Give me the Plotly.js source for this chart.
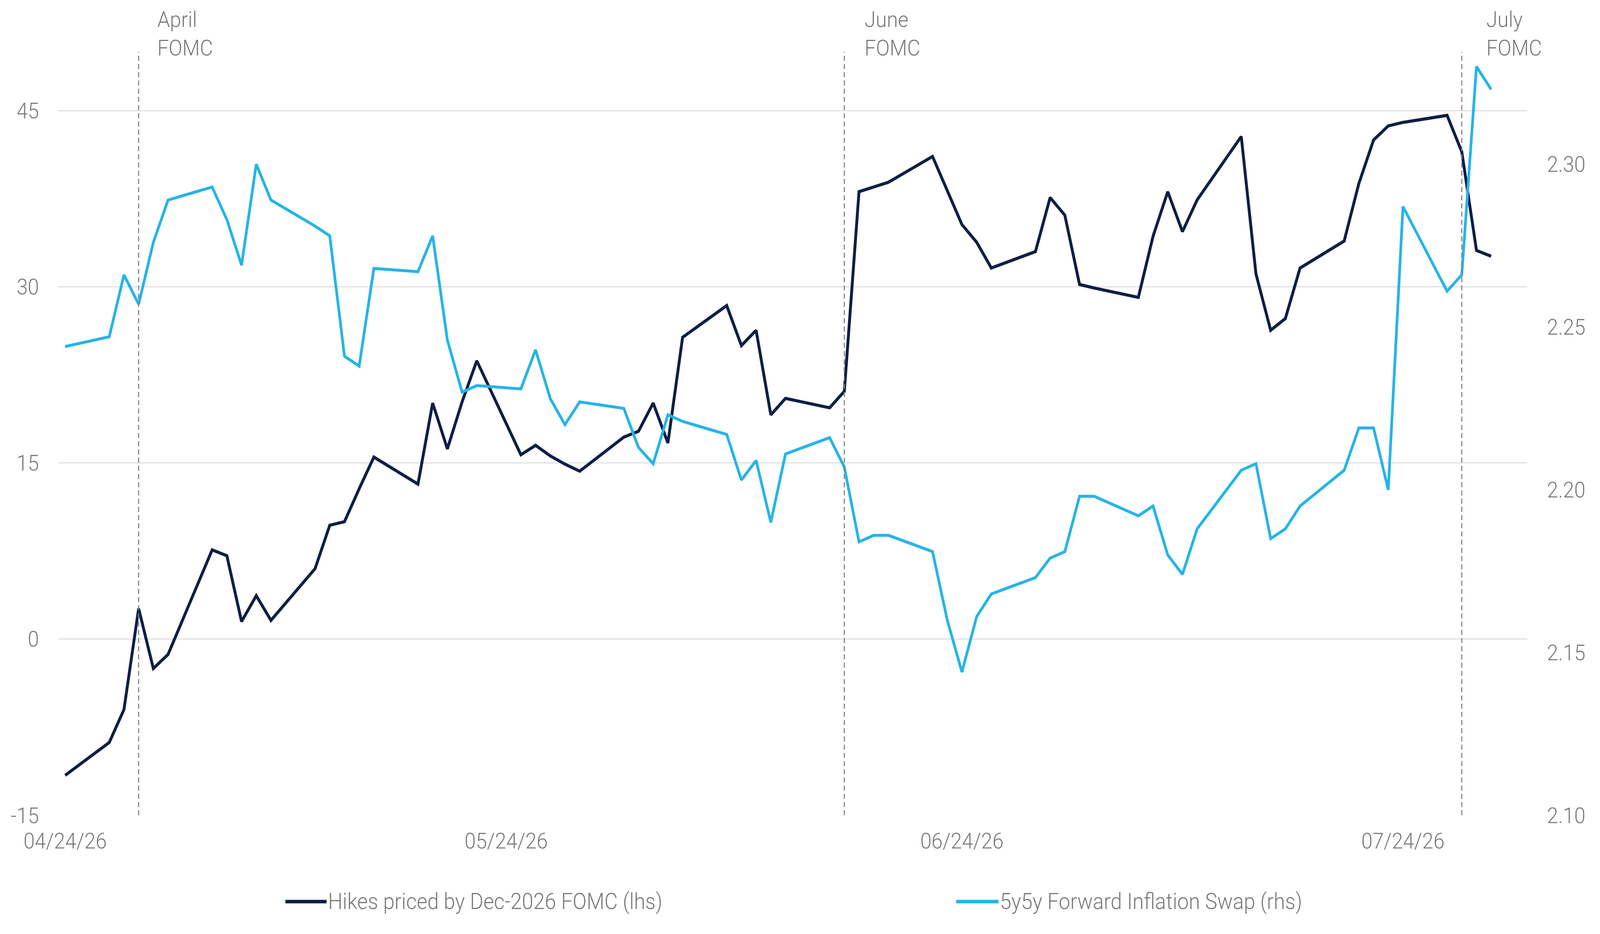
<!DOCTYPE html>
<html>
<head>
<meta charset="utf-8">
<script src="https://cdn.plot.ly/plotly-3.0.1.min.js"></script>
<style>
    html, body { margin: 0; padding: 0; width: 100%; height: 100%; background: #ffffff; overflow: hidden; }
    #frame { position: fixed; left: 0; top: 0; width: 100vw; height: 100vh; overflow: hidden; }
    #chart { width: 4434px; height: 2392px; transform-origin: 0 0; }
</style>
</head>
<body>
<div id="frame"><div id="chart"></div></div>
<script>
// Data (business days, Apr 24 - Jul 30 2026)
const dates = [
    '2026-04-24', '2026-04-27', '2026-04-28', '2026-04-29', '2026-04-30',
    '2026-05-01', '2026-05-04', '2026-05-05', '2026-05-06', '2026-05-07', '2026-05-08',
    '2026-05-11', '2026-05-12', '2026-05-13', '2026-05-14', '2026-05-15',
    '2026-05-18', '2026-05-19', '2026-05-20', '2026-05-21', '2026-05-22',
    '2026-05-25', '2026-05-26', '2026-05-27', '2026-05-28', '2026-05-29',
    '2026-06-01', '2026-06-02', '2026-06-03', '2026-06-04', '2026-06-05',
    '2026-06-08', '2026-06-09', '2026-06-10', '2026-06-11', '2026-06-12',
    '2026-06-15', '2026-06-16', '2026-06-17', '2026-06-18', '2026-06-19',
    '2026-06-22', '2026-06-23', '2026-06-24', '2026-06-25', '2026-06-26',
    '2026-06-29', '2026-06-30', '2026-07-01', '2026-07-02', '2026-07-03',
    '2026-07-06', '2026-07-07', '2026-07-08', '2026-07-09', '2026-07-10',
    '2026-07-13', '2026-07-14', '2026-07-15', '2026-07-16', '2026-07-17',
    '2026-07-20', '2026-07-21', '2026-07-22', '2026-07-23', '2026-07-24',
    '2026-07-27', '2026-07-28', '2026-07-29', '2026-07-30'
];

const hikesPriced = [
    -11.6, -8.8, -6.0, 2.6, -2.5,
    -1.3, 7.6, 7.1, 1.5, 3.7, 1.6,
    6.0, 9.7, 10.0, 12.8, 15.5,
    13.2, 20.1, 16.2, 20.2, 23.7,
    15.7, 16.5, 15.6, 14.9, 14.3,
    17.2, 17.7, 20.1, 16.7, 25.7,
    28.4, 25.0, 26.3, 19.1, 20.5,
    19.7, 21.1, 38.1, 38.5, 38.9,
    41.1, 38.2, 35.3, 33.8, 31.6,
    33.0, 37.6, 36.1, 30.2, 29.9,
    29.1, 34.3, 38.1, 34.7, 37.4,
    42.8, 31.1, 26.3, 27.3, 31.6,
    33.9, 38.8, 42.5, 43.7, 44.0,
    44.6, 41.5, 33.1, 32.6
];

const inflationSwap = [
    2.244, 2.247, 2.266, 2.257, 2.276,
    2.289, 2.293, 2.283, 2.269, 2.300, 2.289,
    2.281, 2.278, 2.241, 2.238, 2.268,
    2.267, 2.278, 2.246, 2.230, 2.232,
    2.231, 2.243, 2.228, 2.220, 2.227,
    2.225, 2.213, 2.208, 2.223, 2.221,
    2.217, 2.203, 2.209, 2.190, 2.211,
    2.216, 2.207, 2.184, 2.186, 2.186,
    2.181, 2.160, 2.144, 2.161, 2.168,
    2.173, 2.179, 2.181, 2.198, 2.198,
    2.192, 2.195, 2.180, 2.174, 2.188,
    2.206, 2.208, 2.185, 2.188, 2.195,
    2.206, 2.219, 2.219, 2.200, 2.287,
    2.261, 2.266, 2.330, 2.323
];

const seriesNames = ['Hikes priced by Dec-2026 FOMC (lhs)', '5y5y Forward Inflation Swap (rhs)'];
const fomcDates = ['2026-04-29', '2026-06-16', '2026-07-28'];
const fomcLabels = ['April<br>FOMC', 'June<br>FOMC', 'July<br>FOMC'];
const xTickVals = ['2026-04-24', '2026-05-24', '2026-06-24', '2026-07-24'];
const leftTicks = [-15, 0, 15, 30, 45];
const leftTickText = ['-15', '0', '15', '30', '45'];
const rightTicks = [2.10, 2.15, 2.20, 2.25, 2.30];

// Styling
const navy = '#0e1f45';
const sky = '#25b4e8';
const textGray = '#7a7a7a';
const fontBase = { family: 'Roboto, "Open Sans", sans-serif', size: 56, color: textGray, weight: 300 };
const fontLegend = { ...fontBase, size: 57 };

const traces = [
    {
        x: dates, y: hikesPriced, name: seriesNames[0],
        type: 'scatter', mode: 'lines', yaxis: 'y',
        line: { color: navy, width: 8 }
    },
    {
        x: dates, y: inflationSwap, name: seriesNames[1],
        type: 'scatter', mode: 'lines', yaxis: 'y2',
        line: { color: sky, width: 7.5 }
    }
];

// FOMC markers
const shapes = fomcDates.map(d => ({
    type: 'line', xref: 'x', yref: 'paper',
    x0: d, x1: d, y0: 0, y1: 1,
    line: { color: '#808080', width: 3, dash: '13px,8px' }
}));

const fomcShift = [50, 54, 66];
const annotations = fomcDates.map((d, i) => ({
    x: d, xref: 'x', y: 1.024, yref: 'paper',
    xanchor: 'left', yanchor: 'middle', align: 'left',
    xshift: fomcShift[i], showarrow: false,
    text: fomcLabels[i], font: fontBase
}));

// Legend drawn by hand so the line samples are as long as in the original
const legendItems = [
    { x0: 0.1547, x1: 0.1827, color: navy },
    { x0: 0.6112, x1: 0.6400, color: sky }
];
const legendY = -0.113;
legendItems.forEach((item, i) => {
    shapes.push({
        type: 'line', xref: 'paper', yref: 'paper',
        x0: item.x0, x1: item.x1, y0: legendY, y1: legendY,
        line: { color: item.color, width: 9 }
    });
    annotations.push({
        x: item.x1, xref: 'paper', y: legendY, yref: 'paper',
        xanchor: 'left', yanchor: 'middle', xshift: 2,
        showarrow: false, text: seriesNames[i], font: fontLegend
    });
});

const layout = {
    width: 4434,
    height: 2392,
    paper_bgcolor: '#ffffff',
    plot_bgcolor: '#ffffff',
    margin: { l: 161, r: 201, t: 133, b: 304 },
    showlegend: false,
    font: fontBase,
    xaxis: {
        type: 'date',
        range: ['2026-04-23 12:30', '2026-08-01 11:15'],
        tickvals: xTickVals,
        tickformat: '%m/%d/%y',
        showgrid: false, zeroline: false, showline: false,
        ticks: '', ticklabelstandoff: 28,
        tickfont: fontBase
    },
    yaxis: {
        range: [-15, 50],
        tickvals: leftTicks,
        ticktext: leftTickText,
        showgrid: true, gridcolor: '#e1e1e1', gridwidth: 3,
        zeroline: false, showline: false,
        ticks: '', ticklabelstandoff: 52,
        tickfont: fontBase
    },
    yaxis2: {
        overlaying: 'y', side: 'right',
        range: [2.10, 2.3345],
        tickvals: rightTicks,
        tickformat: '.2f',
        showgrid: false, zeroline: false, showline: false,
        ticks: '', ticklabelstandoff: 53,
        tickfont: fontBase
    },
    shapes: shapes,
    annotations: annotations
};

// Stretch the fixed-size figure to fill whatever viewport the page gets
const chartDiv = document.getElementById('chart');
const sx = window.innerWidth / 4434;
const sy = window.innerHeight / 2392;
if (sx > 0 && sy > 0 && (sx !== 1 || sy !== 1)) {
    chartDiv.style.transform = 'scale(' + sx + ',' + sy + ')';
}

Plotly.newPlot('chart', traces, layout, { staticPlot: true });
</script>
</body>
</html>
